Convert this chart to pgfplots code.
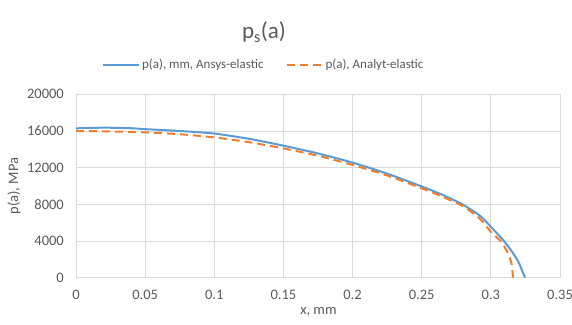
\documentclass[border=0pt]{standalone}
\usepackage{fontspec}
\setmainfont{Carlito}
\usepackage{pgfplots}
\pgfplotsset{compat=1.18}
\definecolor{ansys}{HTML}{5B9BD5}
\definecolor{analyt}{HTML}{ED7D31}
\definecolor{txt}{HTML}{595959}
\definecolor{gridc}{HTML}{D9D9D9}
\begin{document}
\begin{tikzpicture}
\path[use as bounding box] (0pt,0pt) rectangle (572pt,324pt);
\begin{axis}[
  at={(76pt,46.3pt)}, anchor=south west,
  scale only axis, width=484pt, height=183.4pt,
  xmin=0, xmax=0.35, ymin=0, ymax=20000,
  xtick={0,0.05,...,0.35}, ytick={0,4000,...,20000},
  grid=major, major grid style={gridc, line width=0.8pt},
  axis line style={draw=none},
  major tick length=0pt,
  /pgf/number format/assume math mode=true,
  /pgf/number format/1000 sep={},
  scaled x ticks=false, scaled y ticks=false,
  xticklabel style={/pgf/number format/fixed, /pgf/number format/precision=2, anchor=north, inner sep=0pt, yshift=-12pt, font=\fontsize{14.5}{17}\selectfont, text=txt},
  yticklabel style={anchor=east, inner sep=0pt, xshift=-12pt, font=\fontsize{14.5}{17}\selectfont, text=txt},
  xlabel={x, mm},
  xlabel style={at={(axis description cs:0.501,-0.185)}, anchor=center, font=\fontsize{14.5}{17}\selectfont, text=txt},
  ylabel={p(a), MPa},
  ylabel style={at={(axis description cs:-0.128,0.5)}, anchor=center, rotate=0, font=\fontsize{14.5}{17}\selectfont, text=txt},
  legend columns=2,
  legend style={at={(axis description cs:0.388,1.16)}, anchor=center, draw=none, fill=none,
    font=\fontsize{13}{16}\selectfont, text=txt,
    /tikz/every even column/.append style={column sep=20pt}},
  legend cell align=left,
  legend image code/.code={\draw[#1] (0pt,0pt) -- (36pt,0pt);},
]
\addplot[ansys, line width=2pt, smooth, tension=0.4] coordinates {
(0,16290) (0.02,16360) (0.04,16300) (0.05,16200) (0.075,16000) (0.1,15720)
(0.125,15150) (0.15,14400) (0.175,13550) (0.2,12550) (0.225,11350) (0.25,9950)
(0.26,9350) (0.27,8700) (0.28,7950) (0.29,7000) (0.295,6350) (0.3,5550)
(0.305,4750) (0.31,3900) (0.315,2900) (0.32,1700) (0.3247,0)
};
\addlegendentry{p(a), mm, Ansys-elastic}
\addplot[analyt, line width=2pt, dash pattern=on 8pt off 5pt, smooth, tension=0.4] coordinates {
(0,16000) (0.025,15950) (0.05,15850) (0.075,15650) (0.1,15300) (0.125,14780)
(0.15,14100) (0.175,13300) (0.2,12300) (0.225,11150) (0.25,9750) (0.26,9150)
(0.27,8500) (0.28,7800) (0.29,6700) (0.295,5950) (0.3,5000) (0.307,4000)
(0.312,2800) (0.315,1500) (0.316,0)
};
\addlegendentry{p(a), Analyt-elastic}
\end{axis}
\node[font=\fontsize{23}{27}\selectfont, text=txt] at (264pt,292pt) {p\textsubscript{s}(a)};
\end{tikzpicture}
\end{document}
